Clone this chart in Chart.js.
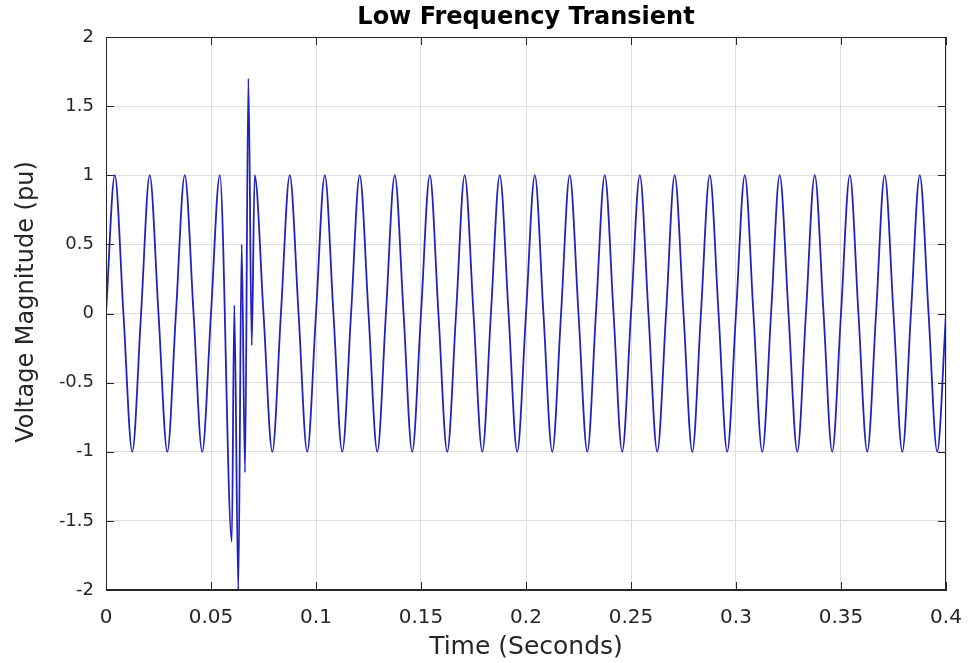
<!DOCTYPE html>
<html>
<head>
<meta charset="utf-8">
<title>Low Frequency Transient</title>
<script src="https://cdn.jsdelivr.net/npm/chart.js@4.4.0/dist/chart.umd.min.js"></script>
<style>
    body { margin: 0; background: #ffffff; }
    canvas { display: block; }
</style>
</head>
<body>
<canvas id="transientChart" width="970" height="663"></canvas>
<script>
// time samples (s), quarter cycle apart except in the disturbance
const timeSec = [
    0, 0.0042, 0.0083, 0.0125,
    0.0167, 0.0208, 0.025, 0.0292,
    0.0333, 0.0375, 0.0417, 0.0458,
    0.05, 0.0542,
    0.0599, 0.0611, 0.063, 0.0646, 0.0662, 0.0678, 0.0694,
    0.0708, 0.075, 0.0792,
    0.0833, 0.0875, 0.0917, 0.0958,
    0.1, 0.1042, 0.1083, 0.1125,
    0.1167, 0.1208, 0.125, 0.1292,
    0.1333, 0.1375, 0.1417, 0.1458,
    0.15, 0.1542, 0.1583, 0.1625,
    0.1667, 0.1708, 0.175, 0.1792,
    0.1833, 0.1875, 0.1917, 0.1958,
    0.2, 0.2042, 0.2083, 0.2125,
    0.2167, 0.2208, 0.225, 0.2292,
    0.2333, 0.2375, 0.2417, 0.2458,
    0.25, 0.2542, 0.2583, 0.2625,
    0.2667, 0.2708, 0.275, 0.2792,
    0.2833, 0.2875, 0.2917, 0.2958,
    0.3, 0.3042, 0.3083, 0.3125,
    0.3167, 0.3208, 0.325, 0.3292,
    0.3333, 0.3375, 0.3417, 0.3458,
    0.35, 0.3542, 0.3583, 0.3625,
    0.3667, 0.3708, 0.375, 0.3792,
    0.3833, 0.3875, 0.3917, 0.3958,
    0.4
];

// voltage (pu) at those times
const voltagePu = [
    0, 1, 0, -1,
    0, 1, 0, -1,
    0, 1, 0, -1,
    0, 1,
    -1.65, 0.06, -2.0, 0.5, -1.15, 1.7, -0.23,
    1, 0, -1,
    0, 1, 0, -1,
    0, 1, 0, -1,
    0, 1, 0, -1,
    0, 1, 0, -1,
    0, 1, 0, -1,
    0, 1, 0, -1,
    0, 1, 0, -1,
    0, 1, 0, -1,
    0, 1, 0, -1,
    0, 1, 0, -1,
    0, 1, 0, -1,
    0, 1, 0, -1,
    0, 1, 0, -1,
    0, 1, 0, -1,
    0, 1, 0, -1,
    0, 1, 0, -1,
    0, 1, 0, -1,
    0, 1, 0, -1,
    0, 1, 0, -1,
    0, 1, 0, -1,
    0
];

const xTickLabels = ['0', '0.05', '0.1', '0.15', '0.2', '0.25', '0.3', '0.35', '0.4'];
const yTickLabels = ['-2', '-1.5', '-1', '-0.5', '0', '0.5', '1', '1.5', '2'];

const axisColor = '#262626';
const gridColor = '#dedede';
const lineColor = '#2222bc';
const fontFamily = "'DejaVu Sans', sans-serif";

const points = timeSec.map((t, i) => ({ x: t, y: voltagePu[i] }));

// matlab style box with inward tick marks
const boxPlugin = {
    id: 'boxPlugin',
    afterDraw(chart) {
        const ctx = chart.ctx;
        const area = chart.chartArea;
        const xScale = chart.scales.x;
        const yScale = chart.scales.y;
        const tickLen = 8;

        ctx.save();
        ctx.strokeStyle = axisColor;
        ctx.lineWidth = 1;
        ctx.strokeRect(area.left + 0.5, area.top + 0.5, area.right - area.left - 1, area.bottom - area.top - 1);

        ctx.beginPath();
        xScale.ticks.forEach((tick) => {
            const px = Math.round(xScale.getPixelForValue(tick.value)) + 0.5;
            ctx.moveTo(px, area.bottom);
            ctx.lineTo(px, area.bottom - tickLen);
            ctx.moveTo(px, area.top);
            ctx.lineTo(px, area.top + tickLen);
        });
        yScale.ticks.forEach((tick) => {
            const py = Math.round(yScale.getPixelForValue(tick.value)) + 0.5;
            ctx.moveTo(area.left, py);
            ctx.lineTo(area.left + tickLen, py);
            ctx.moveTo(area.right, py);
            ctx.lineTo(area.right - tickLen, py);
        });
        ctx.stroke();
        ctx.restore();
    }
};

const ctx = document.getElementById('transientChart');

const newChart = new Chart(ctx, {
    type: 'line',
    data: {
        datasets: [{
            data: points,
            borderColor: lineColor,
            borderWidth: 1.8,
            pointRadius: 0,
            fill: false,
            cubicInterpolationMode: 'monotone',
        }]
    },
    options: {
        responsive: false,
        animation: false,
        layout: {
            padding: { left: 0, right: 24, top: 0, bottom: 0 }
        },
        plugins: {
            legend: { display: false },
            tooltip: { enabled: false },
            title: {
                display: true,
                text: 'Low Frequency Transient',
                fullSize: false,
                color: '#000000',
                font: { family: fontFamily, size: 24, weight: 'bold' },
                padding: { top: 3, bottom: 5.2 },
            },
        },
        scales: {
            x: {
                type: 'linear',
                min: 0,
                max: 0.4,
                afterFit: (scale) => {
                    scale.height = 73;
                    // the end labels may hang over the edges, keep the plot box fixed
                    scale.paddingLeft = 0;
                    scale.paddingRight = 0;
                },
                afterBuildTicks: (scale) => {
                    scale.ticks = xTickLabels.map((v) => ({ value: parseFloat(v) }));
                },
                ticks: {
                    color: axisColor,
                    font: { family: fontFamily, size: 20 },
                    padding: 16,
                    maxRotation: 0,
                    autoSkip: false,
                    callback: (value) => xTickLabels.find((l) => parseFloat(l) === value),
                },
                grid: { color: gridColor, drawTicks: false },
                border: { display: true, color: axisColor },
                title: {
                    display: true,
                    text: 'Time (Seconds)',
                    color: axisColor,
                    font: { family: fontFamily, size: 25 },
                    padding: { top: 0, bottom: 1 },
                },
            },
            y: {
                type: 'linear',
                min: -2,
                max: 2,
                afterFit: (scale) => { scale.width = 106; },
                afterBuildTicks: (scale) => {
                    scale.ticks = yTickLabels.map((v) => ({ value: parseFloat(v) }));
                },
                ticks: {
                    color: axisColor,
                    font: { family: fontFamily, size: 18 },
                    padding: 12,
                    callback: (value) => yTickLabels.find((l) => parseFloat(l) === value),
                },
                grid: { color: gridColor, drawTicks: false },
                border: { display: true, color: axisColor },
                title: {
                    display: true,
                    // leading spaces nudge the label up a little, as in the original
                    text: '   Voltage Magnitude (pu)',
                    color: axisColor,
                    font: { family: fontFamily, size: 24 },
                    padding: { top: 12, bottom: 0 },
                },
            },
        },
    },
    plugins: [boxPlugin],
});
</script>
</body>
</html>
